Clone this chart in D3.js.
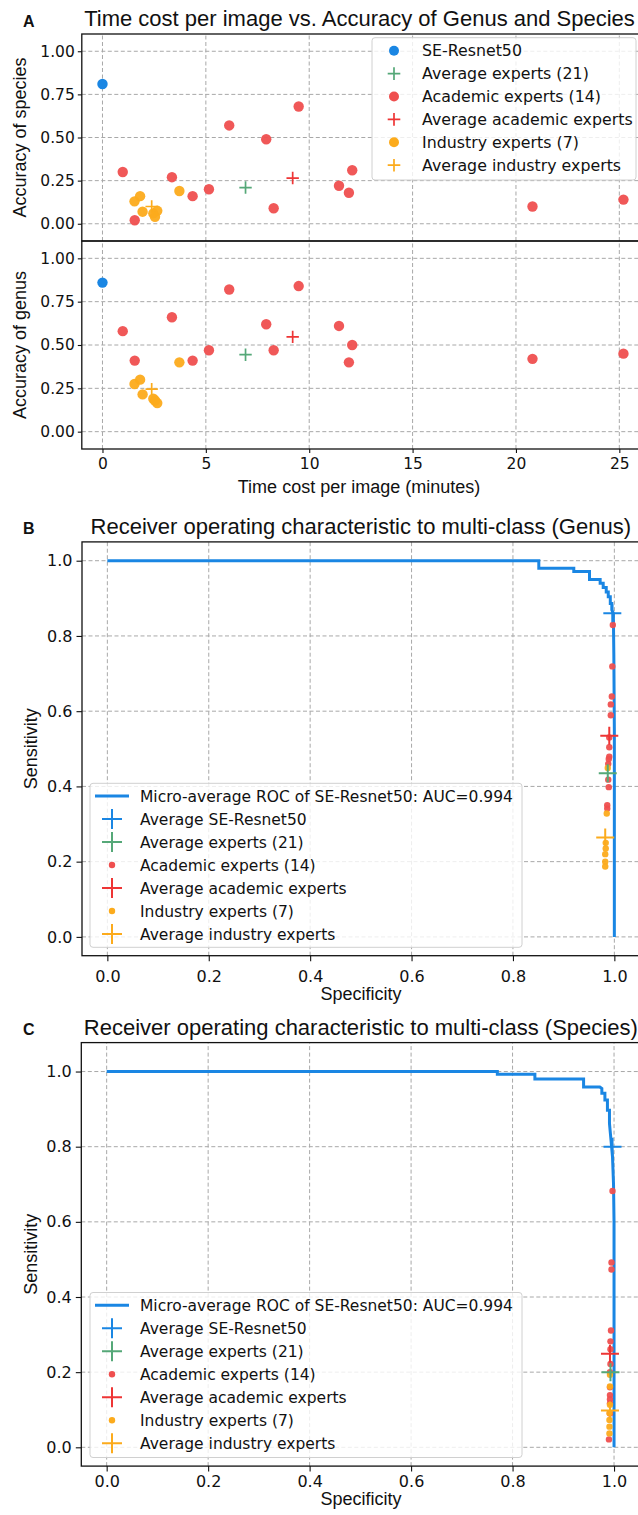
<!DOCTYPE html>
<html>
<head>
<meta charset="utf-8">
<script src="https://cdn.jsdelivr.net/npm/d3@7/dist/d3.min.js"></script>
<style>
  body { margin: 0; background: #fff; }
  svg { display: block; }
</style>
</head>
<body>
<svg width="638" height="1515"></svg>
<script>
// ---- data ----
const timeTicks = [0, 5, 10, 15, 20, 25];
const accuracyTicks = [0, 0.25, 0.5, 0.75, 1];
const rocTicks = [0, 0.2, 0.4, 0.6, 0.8, 1];

// panel A: time cost (minutes) vs accuracy
const seTime = [0];
const seSpecies = [0.81];
const seGenus = [0.86];
const academicTime    = [0.98, 1.56, 3.36, 4.36, 5.15, 6.13, 7.92, 8.28, 9.49, 11.44, 11.92, 12.08, 20.8, 25.2];
const academicSpecies = [0.30, 0.02, 0.27, 0.16, 0.20, 0.57, 0.49, 0.09, 0.68, 0.22, 0.18, 0.31, 0.10, 0.14];
const academicGenus   = [0.58, 0.41, 0.66, 0.41, 0.47, 0.82, 0.62, 0.47, 0.84, 0.61, 0.40, 0.50, 0.42, 0.45];
const industryTime    = [1.55, 1.82, 1.94, 2.46, 2.65, 2.54, 3.72];
const industrySpecies = [0.13, 0.16, 0.07, 0.06, 0.075, 0.04, 0.19];
const industryGenus   = [0.275, 0.30, 0.215, 0.19, 0.165, 0.18, 0.40];
// average markers: experts (21), academic, industry
const avgTime    = [6.92, 9.2, 2.38];
const avgSpecies = [0.21, 0.265, 0.10];
const avgGenus   = [0.444, 0.547, 0.245];

const legendLabelsA = ['SE-Resnet50', 'Average experts (21)', 'Academic experts (14)',
  'Average academic experts', 'Industry experts (7)', 'Average industry experts'];
const legendLabelsRoc = ['Micro-average ROC of SE-Resnet50: AUC=0.994', 'Average SE-Resnet50',
  'Average experts (21)', 'Academic experts (14)', 'Average academic experts',
  'Industry experts (7)', 'Average industry experts'];

// panel B: genus ROC (specificity, sensitivity)
const genusRocSpec = [0, 0.851, 0.851, 0.92, 0.92, 0.951, 0.951, 0.972, 0.972, 0.978, 0.978, 0.984, 0.984, 0.988, 0.988, 0.992, 0.992, 0.995, 0.995, 0.998, 0.999, 1, 1];
const genusRocSens = [1, 1, 0.98, 0.98, 0.971, 0.971, 0.95, 0.95, 0.94, 0.94, 0.929, 0.929, 0.917, 0.917, 0.904, 0.904, 0.886, 0.886, 0.869, 0.86, 0.75, 0.55, 0];
const genusAcademicSpec = [0.997, 0.996, 0.995, 0.993, 0.993, 0.99, 0.99, 0.99, 0.989, 0.988, 0.988, 0.989, 0.986, 0.986];
const genusAcademicSens = [0.829, 0.719, 0.639, 0.618, 0.589, 0.53, 0.504, 0.479, 0.473, 0.46, 0.418, 0.398, 0.35, 0.341];
const genusIndustrySpec = [0.987, 0.985, 0.983, 0.983, 0.982, 0.982, 0.982];
const genusIndustrySens = [0.449, 0.328, 0.25, 0.235, 0.22, 0.2, 0.187];
// averages: SE-Resnet50, experts, academic, industry
const genusAvgSpec = [0.996, 0.987, 0.99, 0.982];
const genusAvgSens = [0.86, 0.435, 0.535, 0.264];

// panel C: species ROC
const speciesRocSpec = [0, 0.77, 0.77, 0.844, 0.844, 0.94, 0.94, 0.972, 0.976, 0.976, 0.982, 0.982, 0.987, 0.987, 0.991, 0.991, 0.994, 0.997, 0.999, 1, 1];
const speciesRocSens = [1, 1, 0.993, 0.993, 0.98, 0.98, 0.959, 0.959, 0.955, 0.942, 0.942, 0.924, 0.924, 0.897, 0.897, 0.862, 0.818, 0.773, 0.70, 0.6, 0];
const speciesAcademicSpec = [0.997, 0.995, 0.995, 0.994, 0.993, 0.993, 0.993, 0.992, 0.992, 0.992, 0.992, 0.992, 0.992, 0.99];
const speciesAcademicSens = [0.682, 0.492, 0.473, 0.311, 0.282, 0.261, 0.222, 0.20, 0.16, 0.139, 0.128, 0.117, 0.09, 0.021];
const speciesIndustrySpec = [0.992, 0.992, 0.992, 0.991, 0.991, 0.991, 0.991];
const speciesIndustrySens = [0.193, 0.162, 0.113, 0.091, 0.073, 0.055, 0.037];
const speciesAvgSpec = [0.997, 0.993, 0.992, 0.992];
const speciesAvgSens = [0.80, 0.20, 0.249, 0.098];

// ---- styling ----
const BLUE = '#1a86e3', GREEN = '#55a878', RED = '#ef4f4f', RED_PLUS = '#ee3535', ORANGE = '#fcab1c';
const TICK_FONT = 'DejaVu Sans', LABEL_FONT = 'Liberation Sans';

const svg = d3.select('svg');

const plusPath = s => `M${-s},0H${s}M0,${-s}V${s}`;

// dashed grid for one axes box
function gridAndFrame(g, x, y, xTicks, yTicks) {
  const [x0, x1] = x.range();
  const [y0, y1] = y.range();
  g.append('g').selectAll('line').data(xTicks).join('line')
    .attr('x1', d => x(d)).attr('x2', d => x(d))
    .attr('y1', y0).attr('y2', y1)
    .attr('stroke', '#a8a8a8').attr('stroke-width', 1).attr('stroke-dasharray', '4,2.5');
  g.append('g').selectAll('line').data(yTicks).join('line')
    .attr('x1', x0).attr('x2', x1)
    .attr('y1', d => y(d)).attr('y2', d => y(d))
    .attr('stroke', '#a8a8a8').attr('stroke-width', 1).attr('stroke-dasharray', '4,2.5');
}
function frame(g, x, y) {
  const [x0, x1] = x.range();
  const [y0, y1] = y.range();
  g.append('rect')
    .attr('x', x0).attr('y', y1).attr('width', x1 - x0).attr('height', y0 - y1)
    .attr('fill', 'none').attr('stroke', '#111').attr('stroke-width', 1.3);
}
function styleAxis(axisG, size) {
  axisG.select('.domain').remove();
  axisG.selectAll('.tick line').attr('stroke', '#111').attr('stroke-width', 1.1);
  axisG.selectAll('.tick text')
    .attr('fill', '#111')
    .style('font-family', TICK_FONT)
    .style('font-size', size + 'px');
}

function legend(g, box, rows, opts) {
  const lg = g.append('g');
  lg.append('rect')
    .attr('x', box.x).attr('y', box.y).attr('width', box.w).attr('height', box.h)
    .attr('rx', 3).attr('fill', '#fff').attr('fill-opacity', 0.8)
    .attr('stroke', '#d0d0d0').attr('stroke-width', 1);
  rows.forEach((r, i) => {
    const cy = opts.top + i * opts.step;
    if (r.kind === 'dot') {
      lg.append('circle').attr('cx', opts.markerX).attr('cy', cy).attr('r', r.size).attr('fill', r.color);
    } else if (r.kind === 'plus') {
      lg.append('path').attr('d', plusPath(r.size))
        .attr('transform', `translate(${opts.markerX},${cy})`)
        .attr('stroke', r.color).attr('stroke-width', r.width).attr('fill', 'none');
    } else {
      lg.append('line').attr('x1', opts.markerX - 17).attr('x2', opts.markerX + 17)
        .attr('y1', cy).attr('y2', cy).attr('stroke', r.color).attr('stroke-width', 3);
    }
    lg.append('text').attr('x', opts.textX).attr('y', cy).attr('dy', '0.36em')
      .style('font-family', TICK_FONT).style('font-size', opts.font + 'px')
      .attr('fill', '#111').text(r.label);
  });
}

// ================= panel A =================
const gA = svg.append('g');
const xTime = d3.scaleLinear().domain([-1, 26]).range([81.8, 640]);
const ySpecies = d3.scaleLinear().domain([-0.1, 1.1]).range([241, 34]);
const yGenus = d3.scaleLinear().domain([-0.1, 1.1]).range([449, 241]);

[[ySpecies, seSpecies, academicSpecies, industrySpecies, avgSpecies, 'Accuracy of species'],
 [yGenus, seGenus, academicGenus, industryGenus, avgGenus, 'Accuracy of genus']].forEach(([y, se, acad, ind, avg, label]) => {
  gridAndFrame(gA, xTime, y, timeTicks, accuracyTicks);

  const yAxisG = gA.append('g').attr('transform', `translate(${xTime.range()[0]},0)`)
    .call(d3.axisLeft(y).tickValues(accuracyTicks).tickFormat(d3.format('.2f')).tickSize(4).tickPadding(3));
  styleAxis(yAxisG, 15.5);

  gA.append('g').selectAll('circle').data(acad).join('circle')
    .attr('cx', (d, i) => xTime(academicTime[i])).attr('cy', d => y(d))
    .attr('r', 5.2).attr('fill', RED).attr('fill-opacity', 0.95);
  gA.append('g').selectAll('circle').data(ind).join('circle')
    .attr('cx', (d, i) => xTime(industryTime[i])).attr('cy', d => y(d))
    .attr('r', 5.2).attr('fill', ORANGE).attr('fill-opacity', 0.95);
  gA.append('g').selectAll('circle').data(se).join('circle')
    .attr('cx', (d, i) => xTime(seTime[i])).attr('cy', d => y(d))
    .attr('r', 5.2).attr('fill', BLUE);
  const avgColors = [GREEN, RED_PLUS, ORANGE];
  gA.append('g').selectAll('path').data(avg).join('path')
    .attr('d', plusPath(6.2))
    .attr('transform', (d, i) => `translate(${xTime(avgTime[i])},${y(d)})`)
    .attr('stroke', (d, i) => avgColors[i]).attr('stroke-width', 1.7).attr('fill', 'none');

  frame(gA, xTime, y);

  const [yb, yt] = y.range();
  gA.append('text')
    .attr('transform', `translate(20,${(yb + yt) / 2}) rotate(-90)`)
    .attr('text-anchor', 'middle').attr('dy', '0.35em')
    .style('font-family', LABEL_FONT).style('font-size', '18px').attr('fill', '#111')
    .text(label);
});

const xAxisA = gA.append('g').attr('transform', 'translate(0,449)')
  .call(d3.axisBottom(xTime).tickValues(timeTicks).tickFormat(d3.format('d')).tickSize(4).tickPadding(5));
styleAxis(xAxisA, 15.5);

gA.append('text').attr('x', 359).attr('y', 493).attr('text-anchor', 'middle')
  .style('font-family', LABEL_FONT).style('font-size', '18px').attr('fill', '#111')
  .text('Time cost per image (minutes)');
gA.append('text').attr('x', 359.5).attr('y', 26).attr('text-anchor', 'middle')
  .style('font-family', LABEL_FONT).style('font-size', '22px').attr('fill', '#111')
  .text('Time cost per image vs. Accuracy of Genus and Species');
gA.append('text').attr('x', 23).attr('y', 27)
  .style('font-family', LABEL_FONT).style('font-size', '16px').style('font-weight', 'bold').attr('fill', '#111')
  .text('A');

legend(gA, { x: 372, y: 37.7, w: 264, h: 142.3 }, [
  { label: legendLabelsA[0], kind: 'dot', color: BLUE, size: 5 },
  { label: legendLabelsA[1], kind: 'plus', color: GREEN, size: 6.3, width: 1.7 },
  { label: legendLabelsA[2], kind: 'dot', color: RED, size: 5 },
  { label: legendLabelsA[3], kind: 'plus', color: RED_PLUS, size: 6.3, width: 1.7 },
  { label: legendLabelsA[4], kind: 'dot', color: ORANGE, size: 5 },
  { label: legendLabelsA[5], kind: 'plus', color: ORANGE, size: 6.3, width: 1.7 }
], { top: 50.7, step: 22.9, markerX: 394, textX: 422, font: 15.8 });

// ================= panels B and C =================
function rocPanel(p) {
  const g = svg.append('g');
  const x = d3.scaleLinear().domain([-0.05, 1.05]).range(p.xRange);
  const y = d3.scaleLinear().domain(p.yDomain).range(p.yRange);

  gridAndFrame(g, x, y, rocTicks, rocTicks);

  const yAxisG = g.append('g').attr('transform', `translate(${p.xRange[0]},0)`)
    .call(d3.axisLeft(y).tickValues(rocTicks).tickFormat(d3.format('.1f')).tickSize(5.5).tickPadding(4));
  styleAxis(yAxisG, 16);
  const xAxisG = g.append('g').attr('transform', `translate(0,${p.yRange[0]})`)
    .call(d3.axisBottom(x).tickValues(rocTicks).tickFormat(d3.format('.1f')).tickSize(5.5).tickPadding(p.xPad));
  styleAxis(xAxisG, 16);

  const line = d3.line().x(i => x(p.curveSpec[i])).y(i => y(p.curveSens[i]));
  g.append('path').datum(d3.range(p.curveSpec.length))
    .attr('d', line).attr('fill', 'none').attr('stroke', BLUE).attr('stroke-width', 3);

  g.append('g').selectAll('circle').data(p.acadSens).join('circle')
    .attr('cx', (d, i) => x(p.acadSpec[i])).attr('cy', d => y(d))
    .attr('r', 3.2).attr('fill', RED).attr('fill-opacity', 0.95);
  g.append('g').selectAll('circle').data(p.indSens).join('circle')
    .attr('cx', (d, i) => x(p.indSpec[i])).attr('cy', d => y(d))
    .attr('r', 3.2).attr('fill', ORANGE).attr('fill-opacity', 0.95);
  const avgColors = [BLUE, GREEN, RED_PLUS, ORANGE];
  g.append('g').selectAll('path').data(p.avgSens).join('path')
    .attr('d', plusPath(9))
    .attr('transform', (d, i) => `translate(${x(p.avgSpec[i])},${y(d)})`)
    .attr('stroke', (d, i) => avgColors[i]).attr('stroke-width', 2).attr('fill', 'none');

  frame(g, x, y);

  legend(g, p.legendBox, [
    { label: legendLabelsRoc[0], kind: 'line', color: BLUE },
    { label: legendLabelsRoc[1], kind: 'plus', color: BLUE, size: 10, width: 2 },
    { label: legendLabelsRoc[2], kind: 'plus', color: GREEN, size: 10, width: 2 },
    { label: legendLabelsRoc[3], kind: 'dot', color: RED, size: 3.2 },
    { label: legendLabelsRoc[4], kind: 'plus', color: RED_PLUS, size: 10, width: 2 },
    { label: legendLabelsRoc[5], kind: 'dot', color: ORANGE, size: 3.2 },
    { label: legendLabelsRoc[6], kind: 'plus', color: ORANGE, size: 10, width: 2 }
  ], { top: p.legendTop, step: 23, markerX: 112, textX: 140, font: 15.5 });

  const [yb, yt] = p.yRange;
  g.append('text')
    .attr('transform', `translate(31,${(yb + yt) / 2}) rotate(-90)`)
    .attr('text-anchor', 'middle').attr('dy', '0.35em')
    .style('font-family', LABEL_FONT).style('font-size', '18px').attr('fill', '#111')
    .text('Sensitivity');
  g.append('text').attr('x', 361).attr('y', p.xLabelY).attr('text-anchor', 'middle')
    .style('font-family', LABEL_FONT).style('font-size', '18px').attr('fill', '#111')
    .text('Specificity');
  g.append('text').attr('x', 360.8).attr('y', yt - 8).attr('text-anchor', 'middle')
    .style('font-family', LABEL_FONT).style('font-size', '22px').attr('fill', '#111')
    .text(p.title);
  g.append('text').attr('x', 23).attr('y', yt - 8)
    .style('font-family', LABEL_FONT).style('font-size', '16px').style('font-weight', 'bold').attr('fill', '#111')
    .text(p.letter);
}

rocPanel({
  letter: 'B', title: 'Receiver operating characteristic to multi-class (Genus)',
  xRange: [82, 639.7], yDomain: [-0.05, 1.05], yRange: [955.7, 541.9],
  xPad: 9, xLabelY: 1000,
  curveSpec: genusRocSpec, curveSens: genusRocSens,
  acadSpec: genusAcademicSpec, acadSens: genusAcademicSens,
  indSpec: genusIndustrySpec, indSens: genusIndustrySens,
  avgSpec: genusAvgSpec, avgSens: genusAvgSens,
  legendBox: { x: 90, y: 783.3, w: 432, h: 164 }, legendTop: 796
});

rocPanel({
  letter: 'C', title: 'Receiver operating characteristic to multi-class (Species)',
  xRange: [81.3, 639.4], yDomain: [-0.05, 1.077], yRange: [1466.1, 1042.6],
  xPad: 4, xLabelY: 1505,
  curveSpec: speciesRocSpec, curveSens: speciesRocSens,
  acadSpec: speciesAcademicSpec, acadSens: speciesAcademicSens,
  indSpec: speciesIndustrySpec, indSens: speciesIndustrySens,
  avgSpec: speciesAvgSpec, avgSens: speciesAvgSens,
  legendBox: { x: 90, y: 1292.5, w: 432, h: 165 }, legendTop: 1305.3
});
</script>
</body>
</html>
